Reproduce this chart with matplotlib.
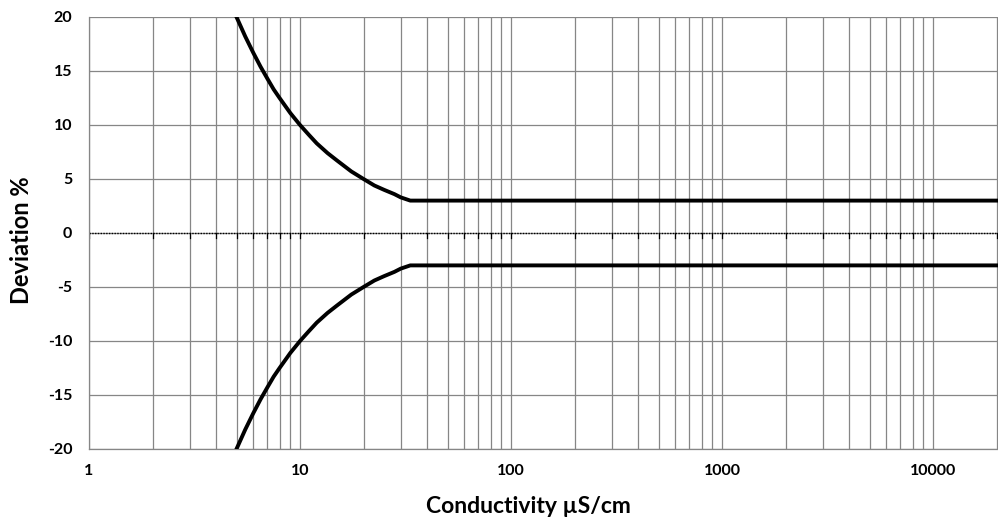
import numpy as np
import matplotlib.pyplot as plt
from matplotlib.ticker import FixedLocator, NullFormatter

# values
conductivity = [5, 5.5, 6, 6.5, 7, 7.5, 8, 9, 10, 11, 12, 13.5, 15, 17.5, 20, 22.5, 25, 28, 30, 33.3,
                100, 1000, 10000, 20000]
upper_dev = [20, 18.2, 16.7, 15.4, 14.3, 13.3, 12.5, 11.1, 10, 9.1, 8.3, 7.4, 6.7, 5.7, 5, 4.4, 4, 3.6, 3.3, 3,
             3, 3, 3, 3]
lower_dev = [-20, -18.2, -16.7, -15.4, -14.3, -13.3, -12.5, -11.1, -10, -9.1, -8.3, -7.4, -6.7, -5.7, -5, -4.4, -4,
             -3.6, -3.3, -3, -3, -3, -3, -3]

x_ticks = [1, 10, 100, 1000, 10000]
x_ticklabels = ["1", "10", "100", "1000", "10000"]
y_ticks = [-20, -15, -10, -5, 0, 5, 10, 15, 20]
y_ticklabels = ["-20", "-15", "-10", "-5", "0", "5", "10", "15", "20"]

plt.rcParams['font.family'] = ['Lato', 'DejaVu Sans']
plt.rcParams['font.weight'] = 'bold'

fig = plt.figure(figsize=(9.98, 5.19), dpi=100)
ax = fig.add_axes([89/998, 1 - 449/519, 1 - 89/998, (449 - 17)/519])

ax.set_xscale('log')
ax.set_xlim(1, 20300)
ax.set_ylim(-20, 20)

minors = [m * 10**d for d in range(0, 5) for m in range(2, 10) if m * 10**d < 20300]
ax.xaxis.set_major_locator(FixedLocator(x_ticks))
ax.xaxis.set_minor_locator(FixedLocator(minors))
ax.xaxis.set_minor_formatter(NullFormatter())
ax.set_xticklabels(x_ticklabels)
ax.set_yticks(y_ticks)
ax.set_yticklabels(y_ticklabels)

ax.grid(True, which='both', axis='x', color='#868686', lw=0.9)
ax.grid(True, which='major', axis='y', color='#868686', lw=0.9)
ax.set_axisbelow(True)

# zero axis line, dotted, with small tick marks
ax.axhline(0, color='black', lw=1.0, ls=(0, (1, 1)), zorder=2)
for xv in x_ticks + minors:
    ax.plot([xv, xv], [0, -0.5], color='black', lw=0.9, zorder=2)

ax.plot(conductivity, upper_dev, color='black', lw=2.8, zorder=3, solid_joinstyle='round')
ax.plot(conductivity, lower_dev, color='black', lw=2.8, zorder=3, solid_joinstyle='round')

for s in ['top', 'right']:
    ax.spines[s].set_visible(False)
for s in ['left', 'bottom']:
    ax.spines[s].set_color('#868686')
    ax.spines[s].set_linewidth(0.9)

ax.tick_params(axis='both', which='both', length=0, labelsize=11.5)
ax.tick_params(axis='x', pad=11)
ax.tick_params(axis='y', pad=12)
for lab in ax.get_xticklabels() + ax.get_yticklabels():
    lab.set_fontweight('bold')

ax.set_xlabel("Conductivity µS/cm", fontsize=16.5, fontweight='bold')
ax.set_ylabel("Deviation %", fontsize=17, fontweight='bold')
ax.xaxis.set_label_coords(0.483, -0.134)
ax.xaxis.label.set_va('center')
ax.yaxis.set_label_coords(-0.0748, 0.484)
ax.yaxis.label.set_va('center')

fig.savefig("out.png", dpi=100)
